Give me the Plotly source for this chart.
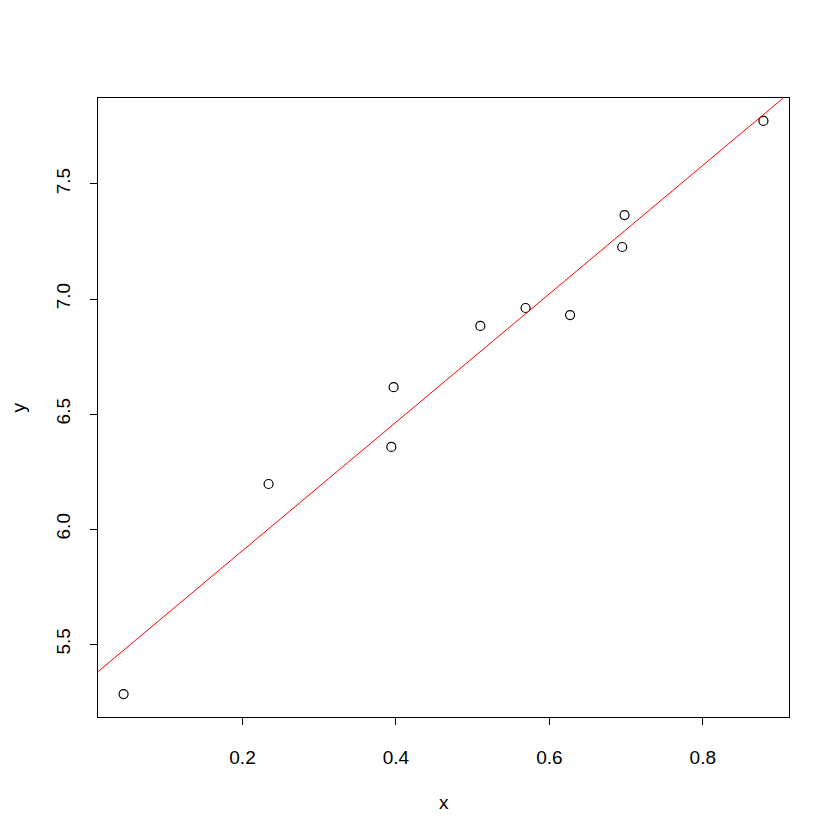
import plotly.graph_objects as go

x = [0.045, 0.234, 0.394, 0.397, 0.510, 0.569, 0.627, 0.695, 0.698, 0.879]
y = [5.283, 6.196, 6.357, 6.617, 6.883, 6.961, 6.930, 7.226, 7.365, 7.774]
intercept = 5.348
slope = 2.791
x_ticks = [0.2, 0.4, 0.6, 0.8]
y_ticks = [5.5, 6.0, 6.5, 7.0, 7.5]

def r_range(v):
    lo, hi = min(v), max(v)
    d = (hi - lo) * 0.04
    return [lo - d, hi + d]

xr = r_range(x)
yr = r_range(y)

fig = go.Figure()
fig.add_trace(go.Scatter(
    x=x, y=y, mode="markers",
    marker=dict(symbol="circle-open", size=9, color="black", line=dict(width=1.2, color="black")),
    showlegend=False, hoverinfo="skip"))
fig.add_trace(go.Scatter(
    x=xr, y=[intercept + slope * v for v in xr], mode="lines",
    line=dict(color="red", width=1), showlegend=False, hoverinfo="skip"))

font = dict(family="Liberation Sans, Arial, sans-serif", size=19, color="black")
axis_common = dict(
    showgrid=False, zeroline=False, showline=True, linecolor="black", linewidth=1,
    mirror=True, ticks="outside", ticklen=7, tickcolor="black", tickwidth=1,
    tickfont=font,
)
fig.update_xaxes(range=xr, tickvals=x_ticks, ticktext=[f"{t:.1f}" for t in x_ticks],
                 ticklabelstandoff=16, **axis_common)
fig.update_yaxes(range=yr, tickvals=y_ticks, ticktext=[f"{t:.1f}" for t in y_ticks],
                 tickangle=-90, ticklabelstandoff=12, **axis_common)

fig.add_annotation(text="x", xref="paper", yref="paper", x=0.5, y=0, yanchor="middle",
                   yshift=-85, showarrow=False, font=font)
fig.add_annotation(text="y", xref="paper", yref="paper", x=0, y=0.5, xanchor="center",
                   xshift=-80, textangle=-90, showarrow=False, font=font)

fig.update_layout(
    width=840, height=840, plot_bgcolor="white", paper_bgcolor="white",
    margin=dict(l=98, r=51, t=98, b=123, autoexpand=False),
)
fig.write_html("out.html", config={"displayModeBar": False},
               post_script="document.body.style.margin='0';document.body.style.overflow='hidden';")
